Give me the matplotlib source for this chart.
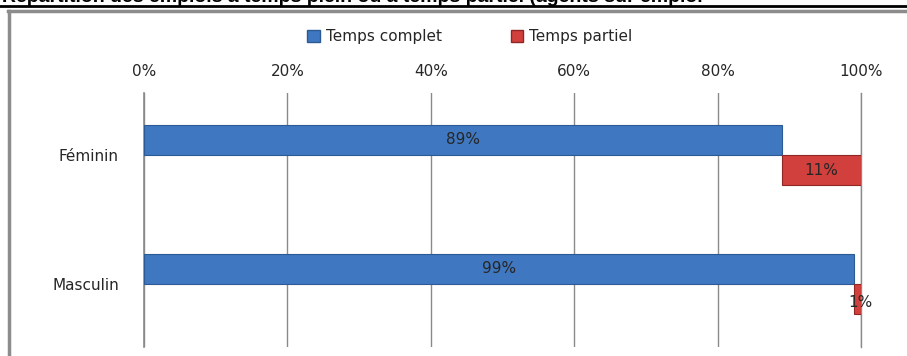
import numpy as np
import matplotlib.pyplot as plt
from matplotlib.patches import Rectangle
from matplotlib.lines import Line2D

plt.rcParams['font.family'] = ['DejaVu Sans']

categories = ["Féminin", "Masculin"]
temps_complet = [89, 99]
temps_partiel = [11, 1]
ticks = [0, 20, 40, 60, 80, 100]

blue = "#3f77c0"
blue_edge = "#2c5a94"
red = "#d2403d"
red_edge = "#8e2624"
txt = "#262626"

fig = plt.figure(figsize=(9.07, 3.56), dpi=100)
ax = fig.add_axes([144/907, 1-347/356, (861-144)/907, (347-93)/356])

y = np.arange(len(categories))
h = 0.235
ax.barh(y - h/2, temps_complet, height=h, color=blue, edgecolor=blue_edge, lw=0.8, zorder=3)
ax.barh(y + h/2, temps_partiel, left=temps_complet, height=h, color=red,
        edgecolor=red_edge, lw=0.8, zorder=3)

# value labels
for i in range(len(categories)):
    ax.text(temps_complet[i]/2, y[i] - h/2, f"{temps_complet[i]}%", ha='center', va='center',
            fontsize=11, color=txt, zorder=4)
    if temps_partiel[i] >= 5:
        ax.text(temps_complet[i] + temps_partiel[i]/2, y[i] + h/2, f"{temps_partiel[i]}%",
                ha='center', va='center', fontsize=11, color=txt, zorder=4)
    else:
        ax.text(temps_complet[i] + temps_partiel[i] - 1.8, y[i] + h/2 + 0.03, f"{temps_partiel[i]}%",
                ha='left', va='center', fontsize=11, color=txt, zorder=4)

ax.set_xlim(0, 100)
ax.set_ylim(1.49, -0.48)
ax.set_xticks(ticks)
ax.set_xticklabels([f"{t}%" for t in ticks], fontsize=11, color=txt)
ax.xaxis.tick_top()
ax.tick_params(axis='x', length=0, pad=10)
ax.set_yticks(y)
ax.set_yticklabels(categories, fontsize=11, color=txt)
ax.tick_params(axis='y', length=0, pad=18)
ax.grid(axis='x', color='#8a8a8a', lw=1)
ax.set_axisbelow(True)
for s in ['top', 'bottom']:
    ax.spines[s].set_visible(False)
for s in ['left', 'right']:
    ax.spines[s].set_color('#8a8a8a')
ax.spines['left'].set_linewidth(1.2)
ax.spines['right'].set_linewidth(1.0)

# legend
handles = [Rectangle((0, 0), 1, 1, facecolor=blue, edgecolor=blue_edge),
           Rectangle((0, 0), 1, 1, facecolor=red, edgecolor=red_edge)]
leg = fig.legend(handles, ["Temps complet", "Temps partiel"], loc='center',
                 bbox_to_anchor=(0.518, 1-37/356), ncol=2, frameon=False, fontsize=11,
                 handlelength=0.8, handleheight=0.8, handletextpad=0.4, columnspacing=4.5)
for t in leg.get_texts():
    t.set_color(txt)

# chart frame
fig.add_artist(Line2D([9/907, 9/907], [0, 1-11/356], color='#8c8c8c', lw=2.5))
fig.add_artist(Line2D([8/907, 1], [1-11/356, 1-11/356], color='#8c8c8c', lw=2.5))

# heading, partly above the page edge
fig.text(0.002, 1-6/356, "Répartition des emplois à temps plein ou à temps partiel (agents sur emploi",
         fontsize=14, fontweight='bold', ha='left', va='bottom', family='Liberation Sans')
fig.add_artist(Line2D([0, 1], [1-5.5/356, 1-5.5/356], color='black', lw=2))

fig.savefig("out.png", dpi=100)
